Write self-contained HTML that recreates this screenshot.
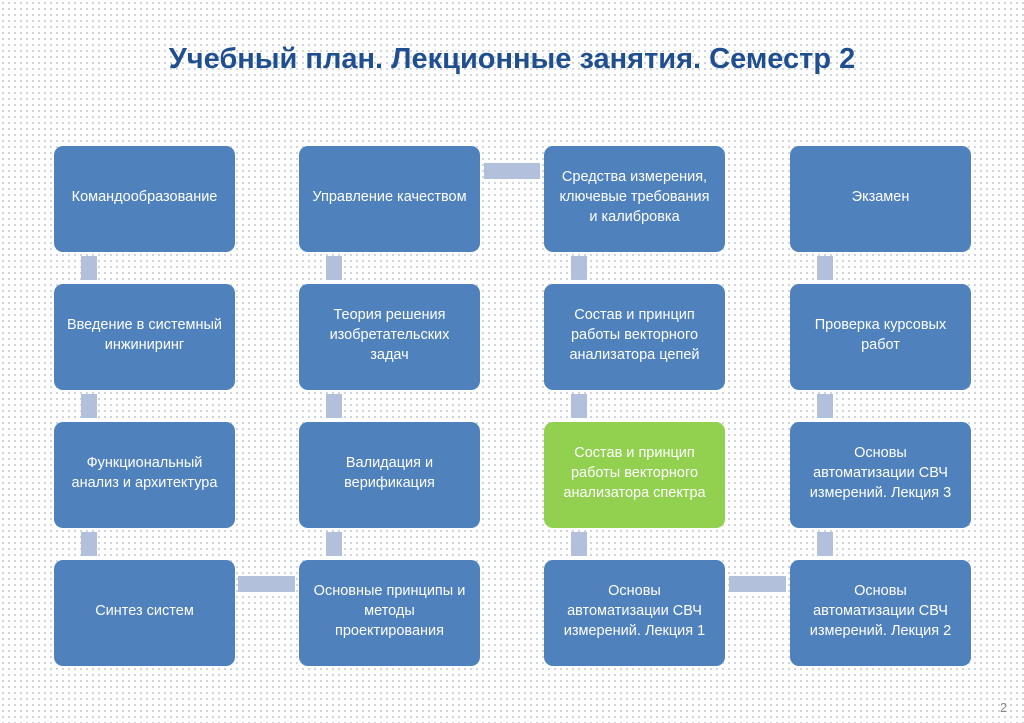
<!DOCTYPE html>
<html><head><meta charset="utf-8"><style>
body{margin:0;width:1024px;height:723px;overflow:hidden;background-color:#fff;
background-image:radial-gradient(circle,#c9ccd6 0.8px,transparent 1.2px);background-size:6px 6px;
font-family:"Liberation Sans","DejaVu Sans",sans-serif;position:relative}
.t{position:absolute;left:0;width:1024px;top:43px;text-align:center;font-size:29px;font-weight:bold;color:#1f4f8f}
.b{position:absolute;width:181px;height:106px;background:#4f81bd;border-radius:9px;color:#fff;font-size:14.5px;line-height:20px;display:flex;align-items:center;justify-content:center;text-align:center;padding:0 4px 4px;box-sizing:border-box;white-space:nowrap}
.g{background:#92d050}
.c{position:absolute;background:#b3c0dc}
.v{width:16px;height:24px}
.h{height:16px}
</style></head><body>
<div class="t">Учебный план. Лекционные занятия. Семестр 2</div>

<div class="c v" style="left:81px;top:256px"></div><div class="c v" style="left:81px;top:394px"></div><div class="c v" style="left:81px;top:532px"></div>
<div class="c v" style="left:326px;top:256px"></div><div class="c v" style="left:326px;top:394px"></div><div class="c v" style="left:326px;top:532px"></div>
<div class="c v" style="left:571px;top:256px"></div><div class="c v" style="left:571px;top:394px"></div><div class="c v" style="left:571px;top:532px"></div>
<div class="c v" style="left:817px;top:256px"></div><div class="c v" style="left:817px;top:394px"></div><div class="c v" style="left:817px;top:532px"></div>
<div class="c h" style="left:484px;top:163px;width:56px"></div>
<div class="c h" style="left:238px;top:576px;width:57px"></div>
<div class="c h" style="left:729px;top:576px;width:57px"></div>

<div class="b" style="left:54px;top:146px">Командообразование</div>
<div class="b" style="left:54px;top:284px">Введение в системный<br>инжиниринг</div>
<div class="b" style="left:54px;top:422px">Функциональный<br>анализ и архитектура</div>
<div class="b" style="left:54px;top:560px">Синтез систем</div>

<div class="b" style="left:299px;top:146px">Управление качеством</div>
<div class="b" style="left:299px;top:284px">Теория решения<br>изобретательских<br>задач</div>
<div class="b" style="left:299px;top:422px">Валидация и<br>верификация</div>
<div class="b" style="left:299px;top:560px">Основные принципы и<br>методы<br>проектирования</div>

<div class="b" style="left:544px;top:146px">Средства измерения,<br>ключевые требования<br>и калибровка</div>
<div class="b" style="left:544px;top:284px">Состав и принцип<br>работы векторного<br>анализатора цепей</div>
<div class="b g" style="left:544px;top:422px">Состав и принцип<br>работы векторного<br>анализатора спектра</div>
<div class="b" style="left:544px;top:560px">Основы<br>автоматизации СВЧ<br>измерений. Лекция 1</div>

<div class="b" style="left:790px;top:146px">Экзамен</div>
<div class="b" style="left:790px;top:284px">Проверка курсовых<br>работ</div>
<div class="b" style="left:790px;top:422px">Основы<br>автоматизации СВЧ<br>измерений. Лекция 3</div>
<div class="b" style="left:790px;top:560px">Основы<br>автоматизации СВЧ<br>измерений. Лекция 2</div>

<div style="position:absolute;left:1000px;top:700px;font-size:13px;color:#8a8a8a">2</div>
</body></html>
